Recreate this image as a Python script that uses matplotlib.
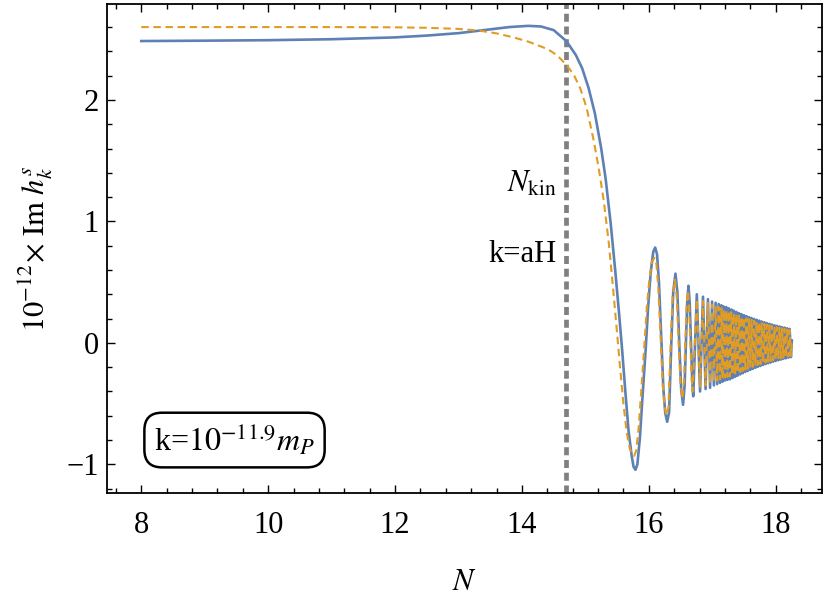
import matplotlib
matplotlib.use("Agg")
import matplotlib.pyplot as plt
from matplotlib.ticker import MultipleLocator, FixedLocator

# ---------------- data ----------------
# Blue solid curve: smooth part + early oscillations
blue_N = [8.00, 9.00, 10.00, 11.00, 12.00, 12.50, 13.00, 13.40, 13.80, 14.10,
          14.30, 14.50, 14.70, 14.85, 14.95, 15.05, 15.15, 15.25, 15.32, 15.40,
          15.47, 15.53, 15.58, 15.63, 15.68, 15.73, 15.76, 15.79, 15.82, 15.86,
          15.90, 15.95, 15.99, 16.03, 16.07, 16.10, 16.13, 16.16, 16.20, 16.23,
          16.26, 16.29, 16.32, 16.355, 16.385, 16.42, 16.45, 16.48, 16.51, 16.54,
          16.565, 16.585, 16.605, 16.625, 16.645, 16.665, 16.685, 16.70]
blue_v = [2.485, 2.488, 2.492, 2.500, 2.515, 2.530, 2.550, 2.575, 2.600, 2.610,
          2.605, 2.575, 2.485, 2.37, 2.26, 2.10, 1.89, 1.60, 1.35, 0.98,
          0.60, 0.25, -0.06, -0.40, -0.72, -0.93, -1.02, -1.045, -1.00, -0.78,
          -0.45, -0.06, 0.30, 0.58, 0.75, 0.785, 0.73, 0.50, 0.00, -0.38,
          -0.58, -0.65, -0.57, 0.00, 0.42, 0.57, 0.42, 0.00, -0.38, -0.51,
          -0.35, 0.00, 0.33, 0.47, 0.33, 0.00, -0.32, -0.44]

# Orange dashed curve: smooth part + early oscillations
orange_N = [8.00, 10.00, 11.00, 12.00, 12.50, 13.00, 13.34, 13.60, 13.87, 14.10,
            14.40, 14.55, 14.70, 14.82, 14.92, 15.02, 15.13, 15.21, 15.29, 15.37,
            15.44, 15.50, 15.55, 15.60, 15.65, 15.70, 15.74, 15.77, 15.80, 15.84,
            15.88, 15.93, 15.97, 16.01, 16.05, 16.09, 16.12, 16.15, 16.19, 16.22,
            16.25, 16.28, 16.31, 16.345, 16.375, 16.41, 16.44, 16.47, 16.50, 16.53,
            16.555, 16.575, 16.595, 16.615, 16.635, 16.655, 16.675, 16.69]
orange_v = [2.600, 2.600, 2.600, 2.598, 2.594, 2.585, 2.570, 2.548, 2.515, 2.480,
            2.420, 2.370, 2.290, 2.205, 2.095, 1.935, 1.670, 1.440, 1.170, 0.820,
            0.430, 0.080, -0.22, -0.50, -0.73, -0.87, -0.92, -0.93, -0.89, -0.70,
            -0.40, -0.02, 0.30, 0.53, 0.67, 0.70, 0.65, 0.45, 0.00, -0.35,
            -0.53, -0.60, -0.53, 0.00, 0.38, 0.52, 0.38, 0.00, -0.34, -0.46,
            -0.32, 0.00, 0.30, 0.43, 0.30, 0.00, -0.29, -0.40]

# Fast oscillations: extremum positions (shared) and values of each curve
osc_N = [16.757, 16.808, 16.854, 16.895, 16.932, 16.966, 16.997, 17.026, 17.053, 17.078,
         17.101, 17.123, 17.143, 17.162, 17.180, 17.200, 17.22, 17.24, 17.26, 17.28,
         17.30, 17.32, 17.34, 17.36, 17.38, 17.40, 17.42, 17.44, 17.46, 17.48,
         17.50, 17.52, 17.54, 17.56, 17.58, 17.60, 17.62, 17.64, 17.66, 17.68,
         17.70, 17.72, 17.74, 17.76, 17.78, 17.80, 17.82, 17.84, 17.86, 17.88,
         17.90, 17.92, 17.94, 17.96, 17.98, 18.00, 18.02, 18.04, 18.06, 18.08,
         18.10, 18.12, 18.14, 18.16, 18.18, 18.20, 18.22, 18.24, 18.255]
blue_osc = [0.40, -0.40, 0.38, -0.38, 0.36, -0.37, 0.34, -0.35, 0.33, -0.34,
            0.32, -0.33, 0.31, -0.32, 0.30, -0.31, 0.295, -0.305, 0.285, -0.30,
            0.275, -0.29, 0.265, -0.28, 0.255, -0.27, 0.245, -0.26, 0.237, -0.25,
            0.228, -0.24, 0.22, -0.232, 0.212, -0.222, 0.205, -0.214, 0.197, -0.205,
            0.19, -0.197, 0.183, -0.19, 0.176, -0.182, 0.17, -0.175, 0.163, -0.168,
            0.157, -0.162, 0.151, -0.155, 0.145, -0.149, 0.14, -0.143, 0.135, -0.138,
            0.13, -0.132, 0.125, -0.127, 0.12, -0.122, 0.115, -0.117, 0.02]
orange_osc = [0.36, -0.36, 0.345, -0.35, 0.33, -0.34, 0.315, -0.32, 0.305, -0.31,
              0.295, -0.30, 0.285, -0.295, 0.275, -0.285, 0.27, -0.28, 0.262, -0.275,
              0.253, -0.267, 0.244, -0.258, 0.235, -0.248, 0.225, -0.24, 0.218, -0.23,
              0.21, -0.22, 0.202, -0.213, 0.195, -0.204, 0.189, -0.197, 0.181, -0.189,
              0.175, -0.181, 0.168, -0.175, 0.162, -0.167, 0.156, -0.161, 0.15, -0.155,
              0.144, -0.149, 0.139, -0.143, 0.133, -0.137, 0.129, -0.132, 0.124, -0.127,
              0.12, -0.121, 0.115, -0.117, 0.11, -0.112, 0.106, -0.108, 0.02]

N_kin = 14.7
x_ticks = [8, 10, 12, 14, 16, 18]
y_ticks = [-1, 0, 1, 2]
y_ticklabels = ["\u22121", "0", "1", "2"]

# ---------------- styling ----------------
plt.rcParams['font.family'] = ['Liberation Serif', 'DejaVu Serif']
plt.rcParams['mathtext.fontset'] = 'stix'
FS = 22

BLUE = '#5E81B5'
ORANGE = '#E19C24'

fig = plt.figure(figsize=(8.30, 6.07), dpi=100)
ax = fig.add_axes([107/830, 1 - 493/607, (822-107)/830, (493-4)/607])

ax.plot(blue_N + osc_N, blue_v + blue_osc, color=BLUE, lw=1.9, zorder=3,
        solid_joinstyle='round')
ax.plot(orange_N + osc_N, orange_v + orange_osc, color=ORANGE, lw=1.5,
        dashes=(3.6, 2.2), zorder=4)

ax.axvline(N_kin, color='#808080', lw=3.4, dashes=(1.7, 1.0), zorder=2)

ax.text(14.55, 1.31, r"$N_{\mathrm{kin}}$", fontsize=FS, ha='right', va='center')
ax.text(14.55, 0.73, "k=aH", fontsize=FS, ha='right', va='center')

ax.text(9.47, -0.80, r"k=$10^{-11.9}m_P$", fontsize=23, ha='center', va='center',
        bbox=dict(boxstyle='round,pad=0.3,rounding_size=0.55', fc='white',
                  ec='black', lw=1.8))

ax.set_xlim(7.46, 18.73)
ax.set_ylim(-1.236, 2.79)

ax.xaxis.set_major_locator(FixedLocator(x_ticks))
ax.xaxis.set_minor_locator(MultipleLocator(0.4))
ax.yaxis.set_major_locator(FixedLocator(y_ticks))
ax.yaxis.set_minor_locator(MultipleLocator(0.2))
ax.set_xticklabels([str(t) for t in x_ticks])
ax.set_yticklabels(y_ticklabels)

ax.tick_params(which='both', direction='in', top=True, right=True,
               labelsize=FS, width=1.0)
ax.tick_params(which='major', length=6)
ax.tick_params(which='minor', length=3.5)
ax.tick_params(axis='x', which='major', pad=13)
ax.tick_params(axis='y', which='major', pad=6)

for s in ax.spines.values():
    s.set_linewidth(1.3)

ax.set_xlabel(r"$N$", fontsize=FS, labelpad=20)
ax.set_ylabel(r"$10^{-12}\!\times\,\mathrm{Im}\ h_k^s$", fontsize=FS, labelpad=8)

fig.savefig("out.png", dpi=100)
